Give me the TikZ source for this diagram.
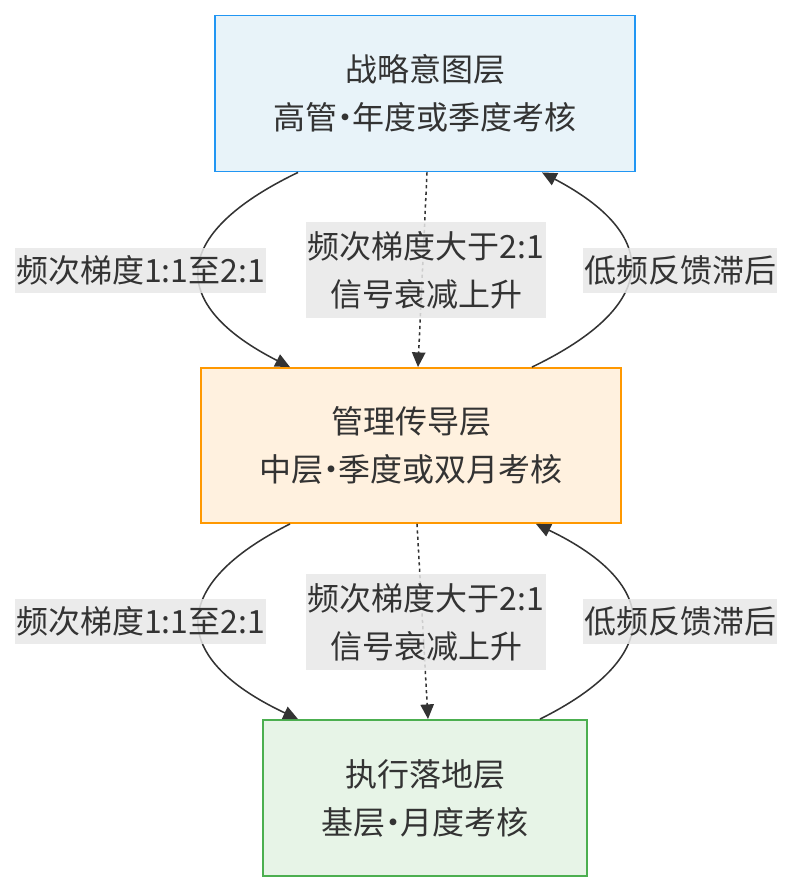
\documentclass[tikz,border=0pt]{standalone}
\usepackage{fontspec}
\setmainfont{Noto Sans CJK SC}
\usepackage{tikz}
\usetikzlibrary{calc,arrows.meta}
\usepackage{xcolor}
\definecolor{ink}{HTML}{333333}
\definecolor{tagbg}{HTML}{E8E8E8}
\definecolor{hiFill}{HTML}{E8F3F9}
\definecolor{hiLine}{HTML}{2196F3}
\definecolor{miFill}{HTML}{FFF1DF}
\definecolor{miLine}{HTML}{FF9800}
\definecolor{loFill}{HTML}{E7F4E7}
\definecolor{loLine}{HTML}{4CAF50}
\newcommand{\sepdot}{\makebox[0.45em]{·}}
\tikzset{
	layer/.style={draw,line width=1.4pt,align=center,text=ink,minimum width=315pt,minimum height=117pt,font=\fontsize{24}{36}\selectfont},
	tag/.style={fill=tagbg,fill opacity=0.85,text opacity=1,text=ink,align=center,inner xsep=1pt,inner ysep=0pt,minimum height=33.75pt,font=\fontsize{24}{36}\selectfont},
	flow/.style={draw=ink,line width=1.15pt,-{Triangle[length=11pt,width=10pt]}},
	weak/.style={flow,dash pattern=on 2.4pt off 2.4pt}
}

\begin{document}
\begin{tikzpicture}[x=0.75pt,y=-0.75pt]
\useasboundingbox (0,0) rectangle (791,892);
%layers
\node[layer,fill=hiFill,draw=hiLine] (hi) at (425,93.5) {战略意图层\\高管\sepdot 年度或季度考核};
\node[layer,fill=miFill,draw=miLine,minimum height=116.25pt] (mi) at (411,445.5) {管理传导层\\中层\sepdot 季度或双月考核};
\node[layer,fill=loFill,draw=loLine,minimum width=243pt] (lo) at (425,798) {执行落地层\\基层\sepdot 月度考核};
%
\draw[flow] ($(hi.south)+(-127,0)$) .. controls (168,235) and (168,305) .. ($(mi.north)+(-121,0)$);
\draw[weak] ($(hi.south)+(2,0)$) to ($(mi.north)+(7,0)$);
\draw[flow] ($(mi.north)+(121,0)$) .. controls (661,305) and (661,235) .. ($(hi.south)+(117,0)$);
\draw[flow] ($(mi.south)+(-121,0)$) .. controls (168,585) and (168,658) .. ($(lo.north)+(-127,0)$);
\draw[weak] ($(mi.south)+(6,0)$) to ($(lo.north)+(3,0)$);
\draw[flow] ($(lo.north)+(115,0)$) .. controls (663,658) and (663,585) .. ($(mi.south)+(125,0)$);
%labels
\node[tag] (l1) at (140.5,270.5) {频次梯度1:1至2:1};
\node[tag,minimum height=72pt] (c1) at (426,270) {频次梯度大于2:1\\信号衰减上升};
\node[tag] (r1) at (680,270.5) {低频反馈滞后};
\node[tag] (l2) at (140.5,621.5) {频次梯度1:1至2:1};
\node[tag,minimum height=72pt] (c2) at (426,622) {频次梯度大于2:1\\信号衰减上升};
\node[tag] (r2) at (680,621.5) {低频反馈滞后};
\end{tikzpicture}
\end{document}
